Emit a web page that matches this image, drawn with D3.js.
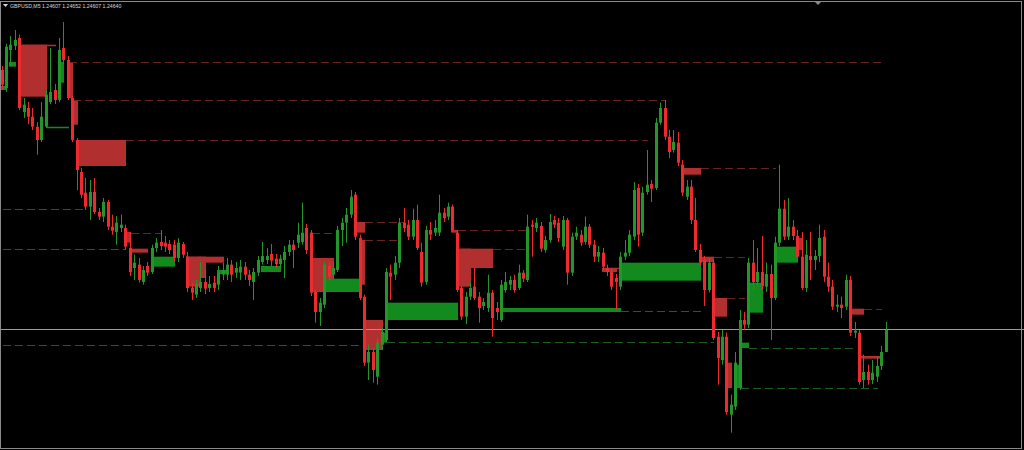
<!DOCTYPE html>
<html>
<head>
<meta charset="utf-8">
<script src="https://cdn.jsdelivr.net/npm/d3@7"></script>
<style>
  body { margin: 0; background: #000; }
  svg { display: block; }
</style>
</head>
<body>
<script>
// GBPUSD M5, prices in points (1.24640 -> 124640)
symbol = "GBPUSD,M5"

open = [125030,125003,125060,125066,125078,124967,124973,124960,124945,124925,124945,124982,125000,124985,125063,125045,124988,124925,124877,124846,
124825,124847,124817,124810,124832,124795,124787,124793,124793,124763,124733,124738,124712,124736,124727,124763,124772,124771,124769,124768,
124748,124769,124750,124703,124693,124703,124712,124703,124711,124708,124723,124723,124738,124726,124726,124735,124723,124712,124726,124742,
124745,124754,124747,124739,124745,124757,124768,124771,124772,124793,124786,124697,124667,124678,124736,124723,124730,124790,124801,124813,
124843,124778,124690,124591,124607,124570,124618,124625,124726,124723,124741,124801,124798,124780,124805,124757,124712,124790,124786,124786,
124816,124810,124825,124786,124703,124660,124690,124705,124690,124676,124673,124696,124673,124655,124700,124708,124715,124703,124726,124715,
124798,124793,124796,124760,124775,124805,124801,124765,124805,124726,124780,124783,124772,124795,124768,124750,124756,124733,124727,124718,
124705,124750,124756,124780,124853,124786,124847,124859,124853,124951,124973,124930,124910,124921,124888,124840,124855,124805,124760,124745,
124700,124741,124630,124595,124630,124513,124525,124553,124655,124648,124741,124712,124727,124705,124724,124688,124771,124822,124780,124795,
124781,124750,124703,124751,124745,124751,124780,124720,124705,124675,124678,124675,124715,124636,124636,124565,124577,124565,124570,124586,
124607]
high = [125036,125069,125081,125090,125083,124988,124982,124973,124952,124982,125000,125063,125009,125078,125102,125051,124991,124928,124883,124868,
124865,124868,124823,124838,124835,124813,124811,124813,124798,124787,124753,124748,124736,124742,124768,124778,124790,124781,124775,124775,
124778,124772,124757,124711,124715,124742,124730,124721,124721,124736,124741,124748,124745,124742,124745,124742,124730,124733,124751,124772,
124763,124769,124754,124753,124766,124775,124775,124801,124831,124799,124790,124700,124688,124742,124742,124742,124796,124808,124823,124850,
124847,124783,124693,124618,124613,124628,124643,124733,124738,124751,124808,124823,124805,124822,124828,124771,124796,124802,124805,124843,
124823,124831,124828,124790,124706,124697,124712,124733,124697,124688,124723,124700,124682,124715,124727,124721,124723,124738,124730,124813,
124805,124808,124802,124781,124814,124811,124808,124811,124808,124786,124795,124790,124810,124799,124775,124766,124763,124738,124733,124724,
124757,124775,124790,124862,124859,124855,124910,124865,124958,124981,124985,124940,124940,124937,124895,124865,124865,124838,124769,124751,
124748,124745,124637,124640,124636,124543,124607,124670,124667,124748,124775,124763,124781,124741,124738,124780,124888,124835,124838,124805,
124790,124787,124775,124787,124760,124798,124790,124741,124715,124693,124690,124723,124721,124652,124640,124603,124588,124595,124601,124616,
124652]
low = [125000,124997,125036,125060,124970,124958,124949,124940,124903,124922,124943,124979,124979,124982,125039,124985,124922,124850,124838,124820,
124805,124814,124805,124802,124790,124783,124768,124787,124760,124721,124715,124711,124708,124721,124724,124757,124760,124757,124754,124742,
124742,124748,124697,124685,124688,124697,124694,124697,124697,124700,124715,124715,124712,124718,124715,124715,124706,124685,124721,124738,
124739,124736,124733,124733,124718,124751,124733,124763,124768,124754,124691,124651,124646,124673,124715,124718,124727,124766,124771,124808,
124775,124685,124586,124565,124561,124558,124610,124622,124685,124715,124733,124787,124775,124775,124760,124705,124708,124775,124781,124781,
124802,124805,124787,124697,124655,124649,124685,124685,124651,124670,124667,124630,124655,124652,124696,124700,124696,124700,124712,124712,
124750,124787,124757,124756,124771,124793,124772,124760,124708,124721,124775,124766,124768,124763,124742,124742,124730,124721,124700,124670,
124700,124745,124751,124775,124765,124781,124843,124832,124850,124948,124925,124898,124906,124886,124841,124835,124799,124757,124736,124676,
124696,124625,124558,124588,124513,124486,124520,124550,124640,124643,124700,124706,124700,124697,124625,124685,124766,124775,124775,124775,
124745,124700,124697,124715,124730,124742,124712,124697,124670,124667,124658,124670,124631,124628,124558,124553,124558,124559,124562,124580,
124607]
close = [125008,125065,125068,125075,124973,124978,124960,124945,124925,124960,124993,124997,124985,125060,125045,124988,124925,124880,124843,124825,
124847,124817,124810,124832,124795,124789,124801,124798,124765,124727,124741,124715,124730,124726,124763,124771,124766,124765,124760,124748,
124771,124753,124703,124696,124709,124712,124702,124709,124703,124726,124730,124738,124723,124733,124735,124723,124715,124727,124745,124751,
124751,124744,124739,124747,124757,124768,124760,124783,124786,124760,124696,124667,124681,124738,124720,124733,124790,124801,124813,124840,
124780,124688,124591,124607,124580,124621,124637,124727,124720,124741,124801,124793,124780,124805,124763,124711,124790,124783,124793,124816,
124808,124825,124790,124700,124660,124690,124703,124688,124673,124682,124696,124658,124667,124708,124712,124715,124700,124726,124717,124795,
124795,124801,124762,124775,124802,124798,124778,124805,124726,124780,124786,124771,124795,124768,124750,124757,124735,124727,124705,124712,
124750,124756,124783,124850,124783,124846,124858,124852,124951,124973,124930,124907,124922,124891,124846,124855,124805,124760,124741,124700,
124741,124628,124598,124630,124517,124528,124591,124655,124648,124741,124712,124727,124706,124724,124688,124771,124822,124780,124795,124781,
124750,124703,124753,124745,124751,124778,124720,124705,124675,124678,124673,124715,124636,124639,124562,124577,124565,124576,124586,124607,
124640]

// supply / demand boxes: bar index from, bar index to, upper price, lower price
zoneFrom   = [4,15,16,17,28,29,42,45,42,70,80,81,82,102,103,103,136,154,158,161,164,180,192,194,
              0,2,13,34,49,59,73,86,87,113,140,166,167,169,175]
zoneTo     = [10,16,17,28,29,33,45,46,50,75,82,82,86,103,111,106,139,158,161,164,165,181,195,199,
              1,3,14,39,51,63,81,87,103,140,158,167,169,172,180]
zoneTop    = [125068,125042,124985,124925,124787,124762,124750,124750,124750,124748,124802,124775,124655,124790,124762,124762,124733,124883,124750,124688,124591,124778,124672,124601,
              125006,125042,125042,124750,124730,124736,124717,124636,124681,124673,124741,124588,124621,124711,124765]
zoneBottom = [124990,124988,124948,124886,124771,124756,124705,124718,124741,124697,124786,124708,124610,124786,124733,124705,124727,124873,124742,124660,124553,124760,124663,124597,
              125000,125035,125011,124735,124724,124727,124697,124621,124655,124667,124714,124553,124613,124666,124741]
zoneKind   = ["s","s","s","s","s","s","s","s","s","s","s","s","s","s","s","s","s","s","s","s","s","s","s","s",
              "d","d","d","d","d","d","d","d","d","d","d","d","d","d","d"]

// level lines
levelFrom  = [4,15,16,28,29,70,82,82,103,111,137,158,161,164,195, 0,0,0,10,87,140,167,169]
levelTo    = [12,199,150,146,36,76,91,90,119,119,140,175,168,168,199, 19,28,82,15,161,158,198,193]
levelPrice = [125068,125042,124985,124925,124786,124786,124802,124775,124790,124762,124733,124883,124750,124688,124672,
              124822,124762,124618,124945,124622,124669,124553,124613]
levelKind  = ["s","s","s","s","s","s","s","s","s","s","s","s","s","s","s","d","d","d","d","d","d","d","d"]
levelSolid = [1,0,0,0,0,0,0,0,0,0,1,0,0,0,0, 0,0,0,1,0,0,0,0]

function plot_it() {
	width = 1024
	height = 450
	n = close.length

	bull = "#22962b"
	bear = "#ee2a2e"
	zoneColor = {s: "#b22f30", d: "#138a1e"}
	lineColor = {s: "#6a2424", d: "#1c5e1e"}
	frameColor = "#8a8a8a"

	x = d3.scaleLinear().domain([0, n - 1]).range([1.5, 885.5])
	y = d3.scaleLinear().domain([124460, 125135]).range([height, 0])

	svg = d3.select('body').append('svg').attr('width', width).attr('height', height)
	svg.append('rect').attr('width', width).attr('height', height).attr('fill', '#000')

	// boxes (background objects)
	svg.append('g').attr('id', 'zones').selectAll('rect')
		.data(d3.range(zoneFrom.length)).enter().append('rect')
		.attr('x', function(i){ return Math.round(x(zoneFrom[i])) - 1 })
		.attr('width', function(i){ return Math.round(x(zoneTo[i])) - Math.round(x(zoneFrom[i])) + 2 })
		.attr('y', function(i){ return y(zoneTop[i]) })
		.attr('height', function(i){ return Math.max(1.5, y(zoneBottom[i]) - y(zoneTop[i])) })
		.attr('fill', function(i){ return zoneColor[zoneKind[i]] })

	// levels
	svg.append('g').attr('id', 'levels').selectAll('line')
		.data(d3.range(levelFrom.length)).enter().append('line')
		.attr('x1', function(i){ return Math.round(x(levelFrom[i])) + 1 })
		.attr('x2', function(i){ return Math.round(x(levelTo[i])) + 1 })
		.attr('y1', function(i){ return Math.round(y(levelPrice[i])) + 0.5 })
		.attr('y2', function(i){ return Math.round(y(levelPrice[i])) + 0.5 })
		.attr('stroke', function(i){ return levelSolid[i] ? zoneColor[levelKind[i]] : lineColor[levelKind[i]] })
		.attr('stroke-width', function(i){ return levelSolid[i] ? 1.5 : 1 })
		.attr('stroke-dasharray', function(i){ return levelSolid[i] ? null : '8,4' })

	// bid line
	bidY = Math.round(y(close[n - 1])) - 0.5
	svg.append('line').attr('x1', 0).attr('x2', width).attr('y1', bidY).attr('y2', bidY)
		.attr('stroke', '#9b9b9b').attr('stroke-width', 1)

	// candles
	candles = svg.append('g').attr('id', 'candles').selectAll('g')
		.data(d3.range(n)).enter().append('g')
	candles.append('line')
		.attr('x1', function(i){ return Math.round(x(i)) + 0.5 })
		.attr('x2', function(i){ return Math.round(x(i)) + 0.5 })
		.attr('y1', function(i){ return y(high[i]) })
		.attr('y2', function(i){ return y(low[i]) })
		.attr('stroke', function(i){ return close[i] >= open[i] ? bull : bear })
		.attr('stroke-width', 1)
	candles.append('rect')
		.attr('x', function(i){ return Math.round(x(i)) - 1 })
		.attr('width', 3)
		.attr('y', function(i){ return y(Math.max(open[i], close[i])) })
		.attr('height', function(i){ return Math.max(1, Math.abs(y(open[i]) - y(close[i]))) })
		.attr('fill', function(i){ return close[i] >= open[i] ? bull : bear })

	// frame
	svg.append('rect').attr('x', 0.5).attr('y', 1.5).attr('width', 1021).attr('height', 447)
		.attr('fill', 'none').attr('stroke', frameColor).attr('stroke-width', 1)
	svg.append('path').attr('d', 'M815,2 L821,2 L818,5 Z').attr('fill', frameColor)

	// header
	fmt = function(p){ return (p / 100000).toFixed(5) }
	svg.append('path').attr('d', 'M3,4 L8,4 L5.5,7 Z').attr('fill', '#d8d8d8')
	svg.append('text').attr('x', 10).attr('y', 7.5)
		.attr('font-family', 'Liberation Sans, Arial, sans-serif').attr('font-size', 5.2)
		.attr('fill', '#d8d8d8')
		.text(symbol + "  " + fmt(open[n - 1]) + " " + fmt(high[n - 1]) + " " + fmt(low[n - 1]) + " " + fmt(close[n - 1]))
}

plot_it()
</script>
</body>
</html>
